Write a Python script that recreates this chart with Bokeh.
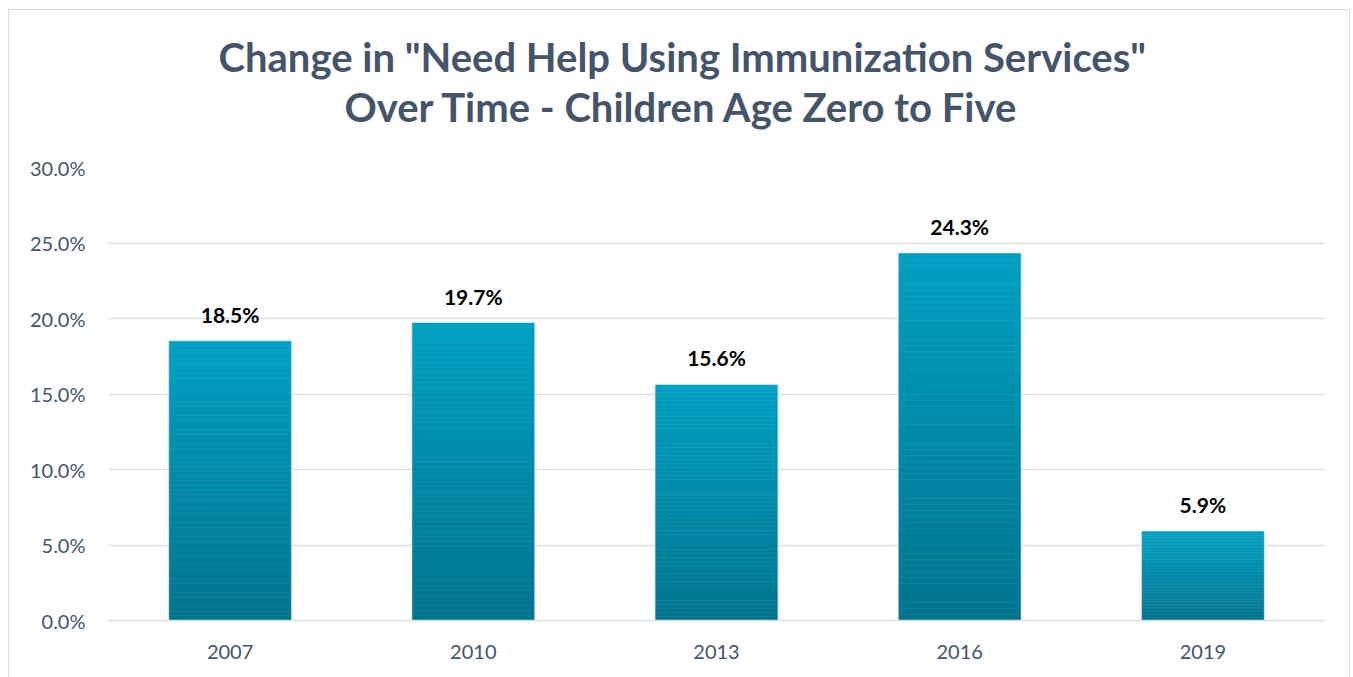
from bokeh.plotting import figure
from bokeh.models import Range1d, FactorRange, FixedTicker, PrintfTickFormatter, Title, ColumnDataSource
from bokeh.core.properties import value
from bokeh.embed import file_html
from bokeh.resources import INLINE

years = ["2007", "2010", "2013", "2016", "2019"]
pct = [18.5, 19.7, 15.6, 24.3, 5.9]
y_ticks = [0, 5, 10, 15, 20, 25, 30]

title1 = 'Change in "Need Help Using Immunization Services"'
title2 = "Over Time - Children Age Zero to Five"

FONT = "Lato"
SLATE = "#44546A"
GRID = "#DADFE6"
TOP_C = (0, 160, 194)
BOT_C = (0, 116, 142)

p = figure(x_range=FactorRange(*years, range_padding=0), y_range=Range1d(0, 30),
           width=1342, height=668, output_backend="svg", toolbar_location=None,
           title=None, min_border_left=99, min_border_right=27, min_border_top=157,
           min_border_bottom=58)
p.margin = (9, 0, 0, 8)
BORDER = "1.5px solid #D9DDE3"
p.styles = {"border-top": BORDER, "border-left": BORDER, "border-right": BORDER,
            "box-sizing": "border-box"}
p.outline_line_color = None
p.background_fill_color = "white"
p.border_fill_color = "white"

# two-line title (later added = further from the frame); first a blank spacer
spacer = Title(text="\u00a0", text_color="white", text_font_size="10px", standoff=24)
t2 = Title(text=title2, align="left", offset=236, standoff=0,
           text_font=FONT, text_font_size="40px", text_font_style="bold", text_color=SLATE)
t1 = Title(text=title1, align="left", offset=110, standoff=0,
           text_font=FONT, text_font_size="40px", text_font_style="bold", text_color=SLATE)
p.add_layout(spacer, "above")
p.add_layout(t2, "above")
p.add_layout(t1, "above")

# shadow behind bars
p.vbar(x=years, top=pct, bottom=0, width=0.512, fill_color="#EAEAEA", line_color=None)

# gradient bars built as slices of each bar
N = 60
xs, bots, tops, cols = [], [], [], []
for yr, v in zip(years, pct):
    for i in range(N):
        f = (i + 0.5) / N
        c = tuple(int(round(BOT_C[k] + (TOP_C[k] - BOT_C[k]) * f)) for k in range(3))
        xs.append(yr)
        bots.append(v * i / N)
        tops.append(v * (i + 1) / N)
        cols.append("#%02x%02x%02x" % c)
src = ColumnDataSource(dict(x=xs, bottom=bots, top=tops, color=cols))
p.vbar(x="x", bottom="bottom", top="top", width=0.5, fill_color="color", line_color="color",
       line_width=0.5, source=src)

# data labels
labels = ["%.1f%%" % v for v in pct]
p.text(x=years, y=pct, text=labels, text_align="center", text_baseline="middle",
       y_offset=-27, text_font=value(FONT), text_font_style="bold", text_font_size="21px",
       text_color="black")

# axes
p.yaxis.ticker = FixedTicker(ticks=y_ticks)
p.yaxis.formatter = PrintfTickFormatter(format="%.1f%%")
p.yaxis.axis_line_color = None
p.yaxis.major_tick_line_color = None
p.yaxis.minor_tick_line_color = None
p.yaxis.major_label_standoff = 17
p.yaxis.major_label_text_font = FONT
p.yaxis.major_label_text_font_size = "20px"
p.yaxis.major_label_text_color = SLATE

p.xaxis.axis_line_color = GRID
p.xaxis.axis_line_width = 1.5
p.xaxis.major_tick_line_color = None
p.xaxis.minor_tick_line_color = None
p.xaxis.major_label_standoff = 18
p.xaxis.major_label_text_font = FONT
p.xaxis.major_label_text_font_size = "20px"
p.xaxis.major_label_text_color = SLATE

p.xgrid.grid_line_color = None
p.ygrid.grid_line_color = GRID
p.ygrid.grid_line_width = 1.5

open("out.html", "w").write(file_html(p, INLINE))
